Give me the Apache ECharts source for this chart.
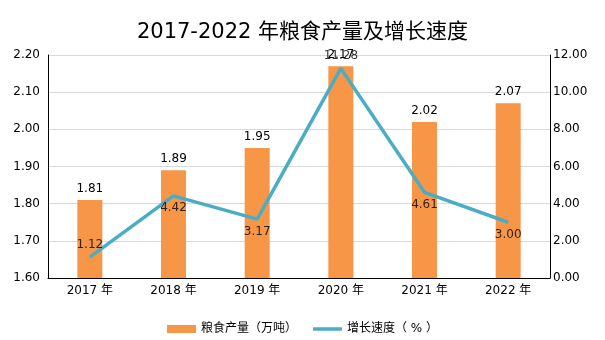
<!DOCTYPE html>
<html>
<head>
<meta charset="utf-8">
<script src="https://cdn.jsdelivr.net/npm/echarts@6/dist/echarts.min.js"></script>
<style>html,body{margin:0;padding:0;background:#fff;}#c{width:605px;height:340px;}</style>
</head>
<body>
<div id="c"></div>
<script>
var categories = ['2017 年', '2018 年', '2019 年', '2020 年', '2021 年', '2022 年'];
var grainOutput = [1.81, 1.89, 1.95, 2.17, 2.02, 2.07];
var growthRate = [1.12, 4.42, 3.17, 11.28, 4.61, 3.00];
var leftTicks = [1.60, 2.20, 0.10];
var rightTicks = [0, 12, 2];
var growthLabelSide = ['top', 'bottom', 'bottom', 'top', 'bottom', 'bottom'];

var font = 'DejaVu Sans, "Noto Sans CJK SC", sans-serif';
var lineIcon = 'path://M0,0L0.01,0L0,0.01Z M0,2.3L29,2.3L29,5.7L0,5.7Z M29,8L28.99,8L29,7.99Z';
var chart = echarts.init(document.getElementById('c'));
chart.setOption({
  animation: false,
  textStyle: { fontFamily: font },
  title: {
    text: '2017-2022 年粮食产量及增长速度',
    left: 'center', top: 17,
    textStyle: { fontSize: 21, fontWeight: 'normal', color: '#000', fontFamily: font }
  },
  grid: { left: 48, right: 55, top: 55, bottom: 62 },
  legend: {
    bottom: 0, left: 'center', itemGap: 16, itemWidth: 29, itemHeight: 8,
    textStyle: { fontSize: 12, color: '#000', fontFamily: font },
    data: [
      { name: '粮食产量（万吨）', icon: 'rect' },
      { name: '增长速度（ % ）', icon: lineIcon, itemStyle: { color: '#4bacc6' } }
    ]
  },
  xAxis: {
    type: 'category', data: categories,
    axisLine: { lineStyle: { color: '#000', width: 1 } },
    axisTick: { show: false },
    axisLabel: { color: '#000', fontSize: 12, margin: 7, fontFamily: font }
  },
  yAxis: [{
    type: 'value', min: leftTicks[0], max: leftTicks[1], interval: leftTicks[2],
    axisLine: { show: true, lineStyle: { color: '#000' } },
    axisTick: { show: false },
    axisLabel: { color: '#000', fontSize: 12, margin: 8, formatter: function (v) { return v.toFixed(2); } },
    splitLine: { lineStyle: { color: '#d9d9d9' } }
  }, {
    type: 'value', min: rightTicks[0], max: rightTicks[1], interval: rightTicks[2],
    axisLine: { show: true, lineStyle: { color: '#000' } },
    axisTick: { show: false },
    axisLabel: { color: '#000', fontSize: 12, margin: 3, formatter: function (v) { return v.toFixed(2); } },
    splitLine: { show: false }
  }],
  series: [{
    name: '粮食产量（万吨）', type: 'bar', data: grainOutput, barWidth: 25,
    itemStyle: { color: '#f79646' },
    label: { show: true, position: 'top', distance: 5, color: '#000', fontSize: 12,
      formatter: function (p) { return p.value.toFixed(2); } }
  }, {
    name: '增长速度（ % ）', type: 'line', yAxisIndex: 1, symbol: 'none',
    data: growthRate,
    lineStyle: { color: '#4bacc6', width: 3.5 },
    itemStyle: { color: '#4bacc6' }
  }, {
    name: 'growthLabels', type: 'scatter', yAxisIndex: 1, symbolSize: 1,
    silent: true, z: 5,
    itemStyle: { color: 'rgba(0,0,0,0)' },
    data: growthRate.map(function (v, i) {
      return { value: v, label: { position: growthLabelSide[i] } };
    }),
    label: { show: true, distance: 6, color: '#000', fontSize: 12,
      formatter: function (p) { return Number(p.value).toFixed(2); } }
  }]
});
</script>
</body>
</html>
